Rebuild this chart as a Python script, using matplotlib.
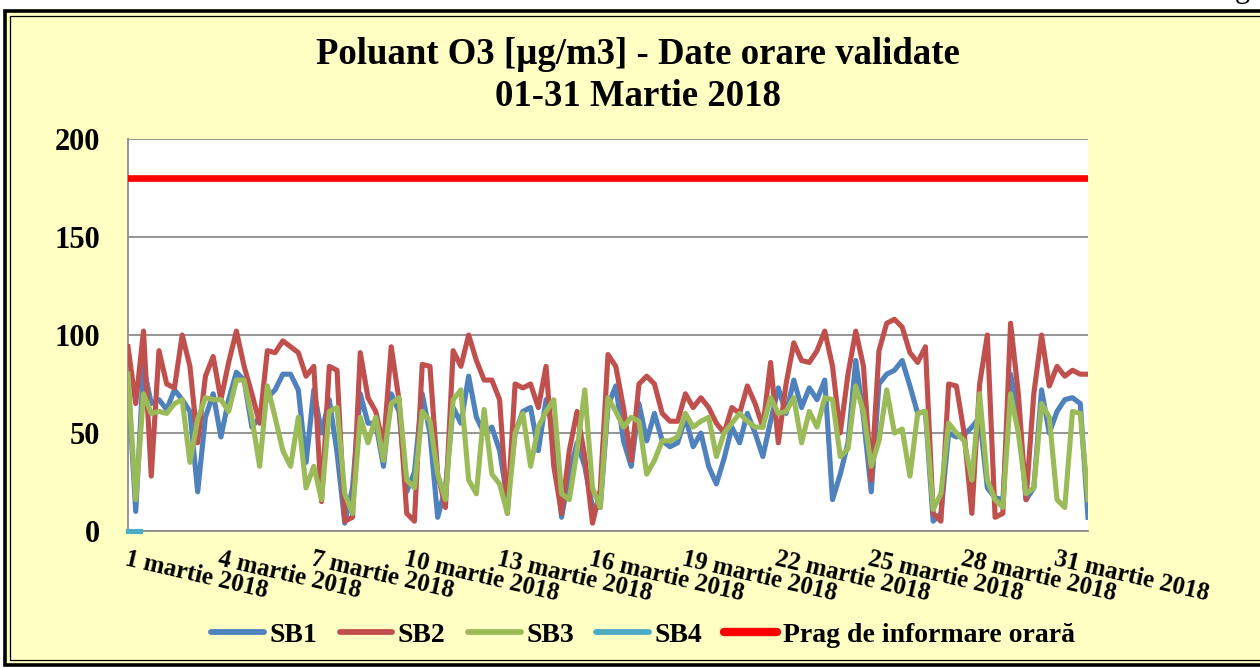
import numpy as np
import matplotlib
matplotlib.use("Agg")
import matplotlib.pyplot as plt
from matplotlib.patches import Rectangle
from matplotlib.lines import Line2D

# ---------------- data (6-hourly readings, 1-31 March 2018) ----------------
sb1 = [77, 10, 84, 65, 67, 62, 72, 67, 61, 20, 58, 70, 48, 67, 81, 77,
       53, 58, 68, 72, 80, 80, 72, 35, 72, 50, 67, 40, 4, 22, 70, 55,
       55, 33, 70, 61, 20, 30, 70, 50, 7, 22, 63, 55, 79, 58, 50,
       53, 41, 16, 50, 61, 63, 41, 67, 50, 7, 29, 45, 33, 12, 12, 64,
       74, 46, 33, 65, 46, 60, 46, 43, 45, 58, 43, 50, 33, 24, 37,
       53, 45, 60, 50, 38, 56, 73, 60, 77, 63, 73, 67, 77, 16, 29, 45,
       87, 58, 20, 75, 80, 82, 87, 74, 60, 61, 5, 9, 50, 48, 49,
       53, 58, 22, 17, 16, 80, 60, 16, 22, 72, 50, 61, 67, 68, 65, 7]
sb2 = [94, 65, 102, 28, 92, 75, 73, 100, 84, 45, 79, 89, 67, 86, 102, 84,
       70, 55, 92, 91, 97, 94, 91, 79, 84, 15, 84, 82, 5, 7, 91, 68,
       61, 43, 94, 67, 9, 5, 85, 84, 29, 12, 92, 84, 100, 87, 77,
       77, 67, 9, 75, 73, 75, 63, 84, 33, 9, 41, 61, 38, 4, 21, 90,
       84, 63, 36, 75, 79, 75, 60, 56, 56, 70, 63, 68, 63, 55, 50,
       63, 60, 74, 65, 53, 86, 45, 75, 96, 87, 86, 92, 102, 84, 50, 80,
       102, 84, 26, 92, 106, 108, 104, 91, 86, 94, 9, 5, 75, 74, 50,
       9, 75, 100, 7, 9, 106, 70, 16, 70, 100, 74, 84, 79, 82, 80, 80]
sb3 = [80, 16, 70, 60, 61, 60, 65, 67, 35, 57, 68, 67, 67, 61, 77, 77,
       58, 33, 74, 58, 41, 33, 58, 22, 33, 16, 61, 63, 19, 9, 58, 45,
       58, 36, 65, 68, 26, 22, 61, 56, 29, 16, 67, 72, 26, 19, 62,
       29, 24, 9, 50, 60, 33, 53, 61, 67, 19, 16, 41, 72, 22, 12, 68,
       61, 53, 58, 56, 29, 36, 46, 46, 48, 60, 53, 56, 58, 38, 50,
       55, 60, 56, 53, 53, 68, 60, 61, 68, 45, 61, 53, 68, 67, 38, 42,
       74, 61, 33, 46, 72, 50, 52, 28, 60, 61, 11, 19, 55, 50, 46,
       26, 70, 26, 16, 12, 70, 50, 19, 22, 65, 58, 16, 12, 61, 60, 16]
sb4_hours = [0, 9]
sb4 = [0, 0]
prag = 180

hours = np.arange(len(sb1)) * 6          # hours since 1 March 00:00
tick_days = list(range(0, 31, 3))
tick_labels = ["1 martie 2018", "4 martie 2018", "7 martie 2018", "10 martie 2018",
               "13 martie 2018", "16 martie 2018", "19 martie 2018", "22 martie 2018",
               "25 martie 2018", "28 martie 2018", "31 martie 2018"]
series_names = ["SB1", "SB2", "SB3", "SB4", "Prag de informare orară"]
colors = ["#4F81BD", "#C0504D", "#9BBB59", "#4BACC6", "#FF0000"]

title1 = "Poluant O3 [µg/m3] - Date orare validate"
title2 = "01-31 Martie 2018"

# ---------------- figure ----------------
W, H = 1260, 668
BG = "#FFFFC4"
FONT = "Liberation Serif"
plt.rcParams["font.family"] = [FONT, "DejaVu Serif"]
plt.rcParams["font.weight"] = "bold"

fig = plt.figure(figsize=(W / 100, H / 100), dpi=100)
fig.patch.set_facecolor("white")

outer = Rectangle((5 / W, 3 / H), 1.2, (H - 3 - 11) / H, transform=fig.transFigure,
                  facecolor=BG, edgecolor="black", lw=2.6, zorder=-3)
inner = Rectangle((10 / W, 8 / H), 1.2, (H - 3 - 11 - 10) / H, transform=fig.transFigure,
                  fill=False, edgecolor="black", lw=0.9, zorder=-2)
fig.patches.extend([outer, inner])

fig.text(1242 / W, 1 + 3 / H, "g", ha="center", va="baseline", fontsize=22,
         fontweight="normal", family=FONT)

ax = fig.add_axes([128 / W, 1 - 531 / H, 960 / W, 392 / H])
ax.set_zorder(2)
ax.set_facecolor("white")

days = hours / 24.0
LW = 3.7
ax.plot(days, sb1, color=colors[0], lw=LW, solid_joinstyle="round", zorder=3)
ax.plot(days, sb2, color=colors[1], lw=LW, solid_joinstyle="round", zorder=4)
ax.plot(days, sb3, color=colors[2], lw=LW, solid_joinstyle="round", zorder=5)
ax.plot(np.array(sb4_hours) / 24.0, sb4, color=colors[3], lw=LW, zorder=6, clip_on=False)
ax.axhline(prag, color=colors[4], lw=4.8, zorder=7)

ax.set_xlim(0, 31)
ax.set_ylim(0, 200)
ax.set_yticks([0, 50, 100, 150, 200])
ax.yaxis.grid(True, color="#8C8C8C", lw=1.3, zorder=1)
ax.set_axisbelow(True)
for s in ["top", "right"]:
    ax.spines[s].set_visible(False)
for s in ["left", "bottom"]:
    ax.spines[s].set_color("#8C8C8C")
    ax.spines[s].set_linewidth(1.3)

ax.set_xticks(tick_days)
ax.set_xticklabels(tick_labels)
ax.tick_params(axis="both", length=0)
ax.tick_params(axis="y", pad=20, labelsize=22)
ax.tick_params(axis="x", pad=12, labelsize=18)
for lab in ax.get_xticklabels():
    lab.set_rotation(-13)
    lab.set_ha("left")
    lab.set_va("top")
    lab.set_rotation_mode("anchor")
    lab.set_fontweight("bold")
for lab in ax.get_yticklabels():
    lab.set_fontweight("bold")

fig.text(638 / W, 1 - 55 / H, title1, ha="center", va="center", fontsize=26.5, fontweight="bold")
fig.text(638 / W, 1 - 97 / H, title2, ha="center", va="center", fontsize=26.5, fontweight="bold")

handles = [Line2D([0], [0], color=c, lw=4.2 if i < 4 else 6, solid_capstyle="round")
           for i, c in enumerate(colors)]
fig.legend(handles, series_names, loc="center", bbox_to_anchor=(643 / W, 1 - 635 / H),
           ncol=5, frameon=False, prop={"family": FONT, "weight": "bold", "size": 20},
           handlelength=1.9, handletextpad=0.2, columnspacing=0.8)

fig.savefig("out.png", dpi=100, facecolor=fig.get_facecolor())
